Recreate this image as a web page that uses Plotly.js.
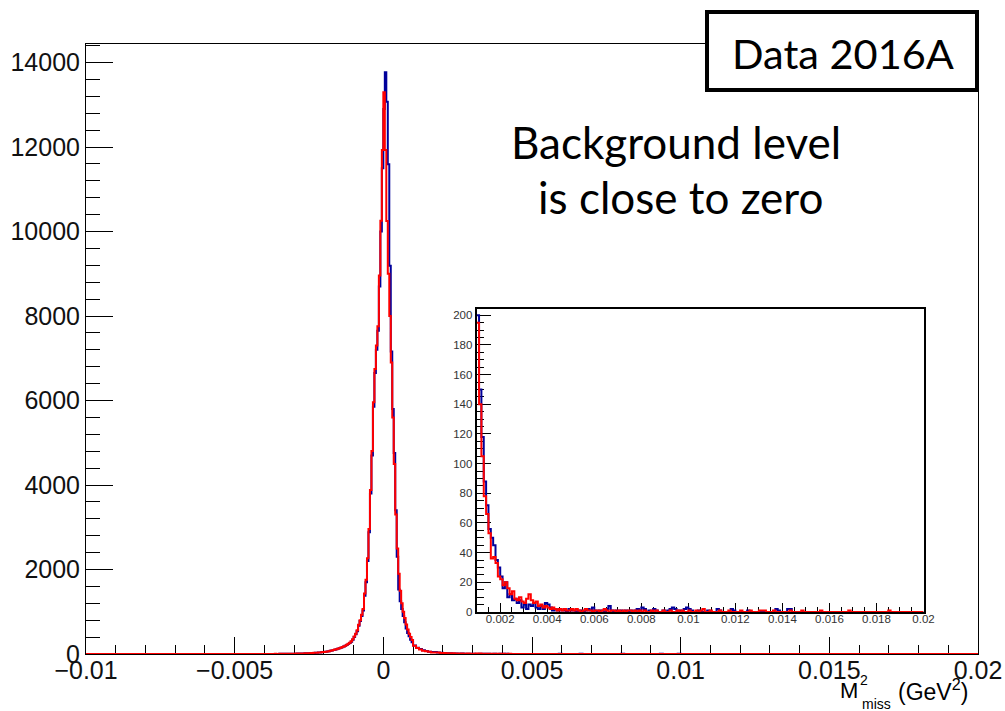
<!DOCTYPE html>
<html><head><meta charset="utf-8">
<script src="https://cdn.plot.ly/plotly-3.0.1.min.js"></script>
<style>body{margin:0;background:#fff}#chart{width:1005px;height:711px}</style>
</head><body><div id="chart"></div>
<script>
// ---- data (bin contents) ----
const xRange = [-0.01, 0.02];
const peakStart = -0.004, peakBinWidth = 0.00005;   // 100 bins: -0.004 .. 0.001
const redPeak = [
  1,0,2,1,1,2,1,3,2,2,3,4,3,4,5,5,6,5,7,7,
  8,9,8,11,12,13,14,16,17,18,
  20,22,24,27,29,32,35,38,42,46,
  50,55,61,68,76,85,95,104,114,125,
  138,150,165,180,198,218,240,265,300,350,
  416,480,560,693,800,930,1064,1433,1757,2265,
  2957,3882,4804,5960,6745,7300,7761,8962,10255,11930,
  13300,11930,10250,9000,8000,6900,5600,4500,3300,2500,
  1900,1500,1200,1000,850,700,580,480,400,330
];
const bluePeak = [
  0,1,1,0,2,1,1,2,2,1,3,3,4,3,4,6,5,6,6,8,
  7,8,9,10,11,13,13,15,16,18,
  19,21,23,25,28,31,34,37,41,45,
  49,54,60,66,74,82,92,101,111,122,
  134,146,160,176,194,212,234,258,292,340,
  400,465,540,670,780,900,1030,1380,1700,2200,
  2880,3800,4700,5850,6650,7200,7650,8700,10000,11500,
  12900,13770,13073,11596,9191,7161,5800,4759,3400,2300,
  1527,1250,1064,900,750,603,500,420,340,280
];
const tailStart = 0.001, tailBinWidth = 0.0001;     // 190 bins: 0.001 .. 0.02
const redTailNear = [
  195,140,105,78,66,53,36,37,33,24,
  22,18,20,16,12,14,9,8,10,7,
  6,9,12,8,6,7,4,5,3,4,
  3,2,3,2,1,2,1,2,1,1
];
const blueTailNear = [
  200,150,118,88,72,56,50,45,35,30,
  24,16,20,10,12,8,9,6,8,3,
  5,2,5,4,6,3,2,4,2,6,
  5,3,1,2,1,2,1,1,0,2
];
const redTailFar = [
  2,1,2,1,0,1,2,1,1,0,
  1,1,0,1,2,1,0,1,1,0,
  1,0,1,0,1,1,0,1,0,1,
  0,1,0,0,1,0,1,0,0,1,
  0,0,1,0,0,1,0,1,0,0,
  1,0,0,1,0,1,2,0,0,1,
  0,0,0,1,0,0,0,1,0,0,
  0,0,1,0,0,0,1,0,0,0,
  1,1,1,0,0,0,1,0,0,0,
  0,0,0,1,0,0,0,0,1,0,
  0,0,0,0,0,0,1,0,0,0,
  0,0,0,0,0,0,0,0,1,0,
  0,0,0,0,0,0,0,0,0,0,
  0,0,0,0,0,1,0,0,0,0,
  0,0,0,0,0,0,0,0,0,0
];
const blueTailFar = [
  1,1,0,1,1,0,1,2,1,3,
  1,0,1,1,0,2,4,1,0,1,
  0,1,0,1,0,1,0,1,2,1,
  3,2,0,1,0,2,1,0,0,1,
  0,1,2,3,2,0,1,0,2,3,
  2,1,0,0,1,0,0,0,1,0,
  0,0,2,1,0,0,0,0,2,1,
  0,0,0,0,0,1,0,0,0,0,
  0,0,0,0,0,0,0,2,1,0,
  0,0,2,2,0,0,0,0,0,0,
  0,0,0,0,0,0,0,0,0,0,
  0,0,0,0,0,0,0,0,0,0,
  0,0,0,0,0,0,0,0,0,0,
  0,0,0,0,0,0,0,0,0,0,
  0,0,0,0,0,0,0,0,0,0
];
const mainYRange = [0, 14440];
const insetXRange = [0.001, 0.02];
const insetYRange = [0, 204];

// ---- build step outlines ----
const r7 = v => Math.round(v * 1e7) / 1e7;
function tailSteps(tail) {
  const xs = [], ys = [];
  tail.forEach((v, j) => { xs.push(r7(tailStart + j * tailBinWidth)); ys.push(v); });
  xs.push(xRange[1]); ys.push(tail[tail.length - 1]);
  return {xs, ys};
}
function mainSteps(peak, tail) {
  const xs = [xRange[0]], ys = [0];
  peak.forEach((v, i) => { xs.push(r7(peakStart + i * peakBinWidth)); ys.push(v); });
  const t = tailSteps(tail);
  return {xs: xs.concat(t.xs), ys: ys.concat(t.ys)};
}
const redTail = redTailNear.concat(redTailFar);
const blueTail = blueTailNear.concat(blueTailFar);
const mB = mainSteps(bluePeak, blueTail), mR = mainSteps(redPeak, redTail);
const iB = tailSteps(blueTail), iR = tailSteps(redTail);

const BLUE = '#00009b', RED = '#ff0000';
const traces = [
  {x: mB.xs, y: mB.ys, type: 'scatter', mode: 'lines', line: {shape: 'hv', color: BLUE, width: 2}, xaxis: 'x', yaxis: 'y', hoverinfo: 'skip'},
  {x: mR.xs, y: mR.ys, type: 'scatter', mode: 'lines', line: {shape: 'hv', color: RED, width: 2}, xaxis: 'x', yaxis: 'y', hoverinfo: 'skip'},
  {x: iB.xs, y: iB.ys, type: 'scatter', mode: 'lines', line: {shape: 'hv', color: BLUE, width: 2}, xaxis: 'x2', yaxis: 'y2', hoverinfo: 'skip'},
  {x: iR.xs, y: iR.ys, type: 'scatter', mode: 'lines', line: {shape: 'hv', color: RED, width: 2}, xaxis: 'x2', yaxis: 'y2', hoverinfo: 'skip'}
];

const tickFont = {family: 'Liberation Sans, Arial, sans-serif', size: 25, color: '#111'};
const insetFont = {family: 'Liberation Sans, Arial, sans-serif', size: 11.5, color: '#333'};
const textFont = (s) => ({family: 'Lato, Open Sans, sans-serif', size: s, color: '#000'});
const axFont = (s) => ({family: 'Liberation Sans, Arial, sans-serif', size: s, color: '#000'});
const W = 892, H = 610, L = 86, T = 44;
const px = x => (x - L) / W, py = y => (T + H - y) / H;

const layout = {
  width: 1005, height: 711,
  margin: {l: 86, r: 27, t: 44, b: 57, autoexpand: false},
  paper_bgcolor: '#fff', plot_bgcolor: '#fff',
  showlegend: false,
  xaxis: {range: xRange, domain: [0, 1], anchor: 'y', showgrid: false, zeroline: false,
    showline: true, linecolor: '#000', linewidth: 1, mirror: true,
    ticks: 'inside', ticklen: 17, tickwidth: 1, tickcolor: '#000', tick0: 0, dtick: 0.005,
    minor: {ticks: 'inside', ticklen: 9, tickwidth: 1, tickcolor: '#000', dtick: 0.001, showgrid: false},
    tickfont: tickFont, ticklabelstandoff: -6, layer: 'below traces'},
  yaxis: {range: mainYRange, domain: [0, 1], anchor: 'x', showgrid: false, zeroline: false,
    showline: true, linecolor: '#000', linewidth: 1, mirror: true,
    ticks: 'inside', ticklen: 27, tickwidth: 1, tickcolor: '#000', tick0: 0, dtick: 2000,
    minor: {ticks: 'inside', ticklen: 14, tickwidth: 1, tickcolor: '#000', dtick: 400, showgrid: false},
    tickformat: 'd', tickfont: tickFont, layer: 'below traces'},
  xaxis2: {range: insetXRange, domain: [px(476.7), px(923.5)], anchor: 'y2', showgrid: false, zeroline: false,
    showline: true, linecolor: '#000', linewidth: 2, mirror: true,
    ticks: 'inside', ticklen: 9, tickwidth: 1, tickcolor: '#000', tick0: 0, dtick: 0.002,
    minor: {ticks: 'inside', ticklen: 5, tickwidth: 1, tickcolor: '#000', dtick: 0.0005, showgrid: false},
    tickfont: insetFont, ticklabelstandoff: -5, layer: 'below traces'},
  yaxis2: {range: insetYRange, domain: [py(612), py(309.3)], anchor: 'x2', showgrid: false, zeroline: false,
    showline: true, linecolor: '#000', linewidth: 2, mirror: true,
    ticks: 'inside', ticklen: 14, tickwidth: 1, tickcolor: '#000', tick0: 0, dtick: 20,
    minor: {ticks: 'inside', ticklen: 7, tickwidth: 1, tickcolor: '#000', dtick: 5, showgrid: false},
    tickfont: insetFont, layer: 'below traces'},
  shapes: [
    {type: 'rect', xref: 'paper', yref: 'paper', x0: px(707), x1: px(977), y0: py(90), y1: py(12),
     line: {color: '#000', width: 4}, fillcolor: '#fff', layer: 'above'}
  ],
  annotations: [
    {text: 'Data 2016A', xref: 'paper', yref: 'paper', x: px(842.5), y: py(53), xanchor: 'center', yanchor: 'middle', showarrow: false, font: textFont(41.5)},
    {text: 'Background level', xref: 'paper', yref: 'paper', x: px(675.5), y: py(142), xanchor: 'center', yanchor: 'middle', showarrow: false, font: textFont(44)},
    {text: 'is close to zero', xref: 'paper', yref: 'paper', x: px(680), y: py(197), xanchor: 'center', yanchor: 'middle', showarrow: false, font: textFont(44)},
    {text: 'M', xref: 'paper', yref: 'paper', x: px(849), y: py(690), xanchor: 'center', yanchor: 'middle', showarrow: false, font: axFont(22)},
    {text: '2', xref: 'paper', yref: 'paper', x: px(864), y: py(680), xanchor: 'center', yanchor: 'middle', showarrow: false, font: axFont(14)},
    {text: 'miss', xref: 'paper', yref: 'paper', x: px(860), y: py(704), xanchor: 'left', yanchor: 'middle', showarrow: false, font: axFont(14)},
    {text: '(GeV<sup>2</sup>)', xref: 'paper', yref: 'paper', x: px(896), y: py(690), xanchor: 'left', yanchor: 'middle', showarrow: false, font: axFont(23)}
  ]
};

Plotly.newPlot('chart', traces, layout, {staticPlot: true, displayModeBar: false});
</script>
</body></html>
